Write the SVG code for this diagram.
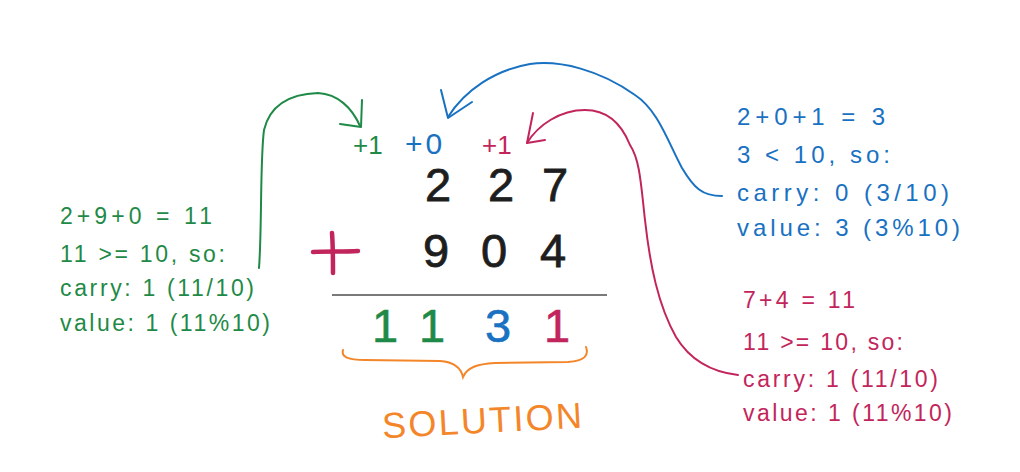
<svg xmlns="http://www.w3.org/2000/svg" width="1020" height="472" viewBox="0 0 1020 472">
  <style>
    text { font-family: "Liberation Sans", Arial, sans-serif; }
    .note { font-size: 23px; }
    .noteB { font-size: 24px; }
    .green { fill: #1f8a47; }
    .blue { fill: #1971c2; }
    .red { fill: #c2255c; }
    .ink { fill: #1e1e1e; stroke: #1e1e1e; stroke-width: 0.8; }
    .big { font-size: 47px; text-anchor: middle; }
    .res { font-size: 47px; text-anchor: middle; stroke-width: 0.6; }
    .carry { font-size: 26px; }
    .conn { fill: none; stroke-width: 2; stroke-linecap: round; stroke-linejoin: round; }
  </style>
  <rect width="1020" height="472" fill="#ffffff"/>

  <g id="connectors">
    <g id="green-arrow" class="conn" stroke="#1f8a47">
      <path d="M259,268 C262,230 260,160 264,130 C270,105 290,94 318,93 C338,94 352,108 360,126"/>
      <path d="M362,100 L361,127 L340,124"/>
    </g>
    <g id="blue-arrow" class="conn" stroke="#1971c2">
      <path d="M722,196 C702,196 694,188 682,168 C668,142 658,110 635,95 C600,70 560,60 530,64 C495,70 465,90 448,117"/>
      <path d="M441,90 L448,118 L472,102"/>
    </g>
    <g id="red-arrow" class="conn" stroke="#c2255c">
      <path d="M738,375 C712,372 690,360 676,337 C658,305 650,265 645,220 C641,185 640,160 630,145 C620,120 605,110 585,110 C560,110 538,125 527,143"/>
      <path d="M533,113 L527,143 L545,140"/>
    </g>
  </g>

  <g id="note-left" class="note green">
    <text x="60" y="224" textLength="152">2+9+0 = 11</text>
    <text x="60" y="262" textLength="165">11 &gt;= 10, so:</text>
    <text x="60" y="296" textLength="194">carry: 1 (11/10)</text>
    <text x="60" y="331" textLength="210">value: 1 (11%10)</text>
  </g>

  <g id="note-blue" class="noteB blue">
    <text x="737" y="125" textLength="148">2+0+1 = 3</text>
    <text x="737" y="163" textLength="153">3 &lt; 10, so:</text>
    <text x="737" y="201" textLength="212">carry: 0 (3/10)</text>
    <text x="737" y="236" textLength="223">value: 3 (3%10)</text>
  </g>

  <g id="note-red" class="note red">
    <text x="743" y="308" textLength="112">7+4 = 11</text>
    <text x="743" y="350" textLength="160">11 &gt;= 10, so:</text>
    <text x="743" y="387" textLength="195">carry: 1 (11/10)</text>
    <text x="743" y="421" textLength="209">value: 1 (11%10)</text>
  </g>

  <g id="carries" class="carry">
    <text class="green" x="353" y="154">+1</text>
    <text class="blue" x="405" y="154" font-size="30" letter-spacing="3">+0</text>
    <text class="red" x="482" y="154">+1</text>
  </g>

  <g id="row-227" class="big ink">
    <text x="438" y="201">2</text>
    <text x="501" y="201">2</text>
    <text x="555" y="201">7</text>
  </g>

  <g id="row-904" class="big ink">
    <text x="436" y="267">9</text>
    <text x="494" y="267">0</text>
    <text x="553" y="267">4</text>
  </g>

  <g id="plus-sign" fill="none" stroke="#c2255c" stroke-width="4.5" stroke-linecap="round">
    <path d="M313,252 C328,251 343,252 358,251"/>
    <path d="M332,233 C333,246 333,260 333,273"/>
  </g>

  <g id="sum-line">
    <line x1="332" y1="295" x2="607" y2="295" stroke="#7a7a7a" stroke-width="2"/>
  </g>

  <g id="result" class="res">
    <text class="green" stroke="#1f8a47" x="385" y="342">1</text>
    <text class="green" stroke="#1f8a47" x="432" y="342">1</text>
    <text class="blue" stroke="#1971c2" x="498" y="342">3</text>
    <text class="red" stroke="#c2255c" x="557" y="342">1</text>
  </g>

  <g id="brace">
    <path d="M343,350 C341,357 348,360 365,360 L440,361 C455,362 461,368 463,377 C467,368 476,364 495,363 L568,362 C585,361 589,355 586,347" fill="none" stroke="#f4862a" stroke-width="2" stroke-linecap="round"/>
  </g>

  <g id="solution-label">
    <text x="382" y="433" font-size="36" fill="#f4862a" textLength="200" transform="rotate(-3 482 420)">SOLUTION</text>
  </g>
</svg>
